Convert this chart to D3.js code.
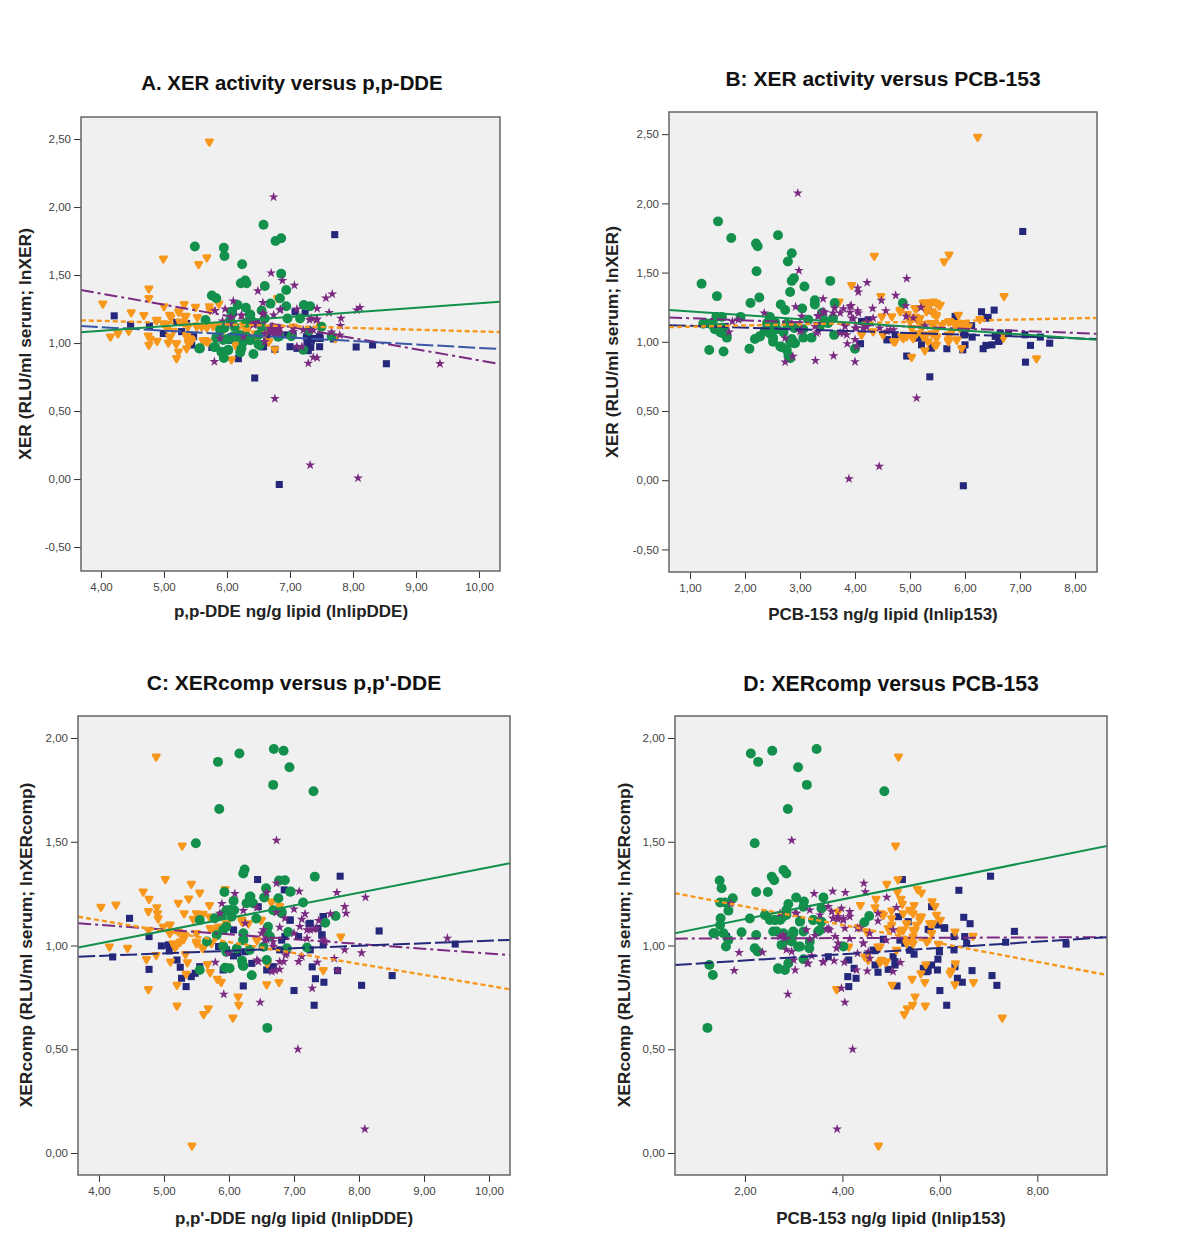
<!DOCTYPE html>
<html><head><meta charset="utf-8">
<script src="https://cdnjs.cloudflare.com/ajax/libs/d3/7.8.5/d3.min.js"></script>
<style>html,body{margin:0;padding:0;background:#fff}svg{display:block}</style>
</head><body><svg id="c" width="1200" height="1248"></svg>
<script>
// ---- values: [x, y] ----
const A_navy=[[4.21,1.2],[4.47,1.133],[4.77,1.125],[5,1.07],[5.2,1.152],[5.28,1.084],[5.47,1.047],[5.44,.986],[5.76,.968],[5.86,1.047],[6.55,.973],[6.18,.885],[6.44,.743],[6.76,.954],[7,.973],[6.95,1.06],[7.08,1.23],[7.71,1.797],[7.24,1.22],[7.27,1.01],[7.34,1.02],[7.47,1.047],[7.33,.968],[7.47,.973],[7.29,.944],[7.11,.961],[7.69,1.03],[8.05,.971],[8.31,.986],[8.53,.848],[6.1,1.223],[6.47,1.145],[6.63,1.047],[6.07,1.02],[6.83,-.04],[7.24,.96],[7.05,1.059],[7.26,1.046],[7.37,1.034],[7.48,1.034],[4.99,1.071],[5.36,1.144],[5.84,1.046],[6.58,.973]];
const A_orange=[[5.72,2.48],[4.99,1.62],[5.68,1.63],[5.55,1.58],[4.76,1.4],[4.76,1.33],[6.8,1.33],[4.03,1.29],[5,1.27],[5.32,1.285],[5.5,1.265],[5.87,1.29],[4.48,1.225],[4.68,1.205],[5.24,1.23],[5.11,1.19],[5.35,1.2],[5.53,1.19],[4.89,1.17],[5.03,1.14],[5.25,1.157],[5.72,1.27],[5.52,1.12],[5.68,1.115],[5.78,1.125],[5.94,1.096],[6.15,1.096],[6.31,1.096],[6.26,1.13],[6.45,1.07],[6.6,1.07],[7.05,1.12],[4.44,1.09],[4.27,1.07],[4.15,1.047],[4.75,1.054],[4.89,1.015],[5.1,1.047],[5.07,1.003],[5.19,.998],[5.36,1.047],[5.39,1.01],[5.44,1.02],[5.36,.96],[4.76,.986],[5.68,1.01],[5.62,1.018],[6.15,.998],[6.15,.973],[6.66,1.01],[5.23,.937],[5.2,.888],[6.07,.88],[6.76,.954],[7.72,1.035],[7.48,1.13],[6.47,1.035],[5.42,1.03],[5.31,1.15],[5.05,1.11],[5.15,1.09],[4.78,1.03],[5.6,1.12],[5.38,1.12],[5.09,1.206],[5.23,1.23],[5.33,1.193],[4.88,1.169],[5.36,1.059],[5.41,1.034],[5.39,.997],[5.09,1.046],[5.2,.997],[5.65,1.022],[5.7,1.01],[5.73,1.242],[5.7,1.132],[5.94,1.095],[6.15,1.095],[6.31,1.083],[6.15,.985],[5.68,1.12],[5.84,1.132],[4.99,1.144],[6.28,1.144],[6.44,1.046],[6.66,1.01]];
const A_green=[[6.58,1.87],[6.86,1.77],[6.77,1.75],[5.49,1.71],[5.95,1.7],[5.96,1.64],[6.24,1.58],[6.86,1.51],[6.29,1.46],[6.22,1.44],[6.31,1.44],[6.6,1.42],[6.94,1.39],[5.76,1.35],[5.83,1.33],[6.84,1.33],[6.69,1.29],[6.94,1.27],[6.17,1.28],[6.3,1.26],[7.22,1.28],[7.32,1.27],[6.07,1.23],[6.55,1.24],[6.37,1.21],[5.66,1.17],[6.96,1.18],[7.16,1.18],[7.5,1.12],[5.96,1.11],[6.55,1.12],[5.89,1.1],[6.31,1.15],[5.56,.96],[5.8,.97],[5.92,.93],[5.95,.89],[6.02,.95],[6.23,.96],[6.21,.93],[6.42,.92],[6.5,.99],[6.37,1.02],[6,1.03],[6.1,1.05],[6.83,1.05],[7.21,.95],[7.66,1.05],[6.12,1.12],[6.7,1.1],[6.4,1.16],[6.6,1.18],[6.2,1.06],[6.26,1.01],[5.83,1.04],[6.05,1.17],[6.78,1.08],[7.02,1.05],[7.3,1.09],[6.5,1.06],[6.05,1.034],[6.15,1.046],[5.94,1.022],[6.31,1.046],[6.52,.985],[6.81,1.046],[5.91,.936],[5.57,.961],[5.81,.973],[6.02,.948],[6.36,1.206]];
const A_purple=[[6.74,2.074],[6.7,1.515],[6.88,1.459],[7.07,1.424],[6.49,1.383],[7.67,1.36],[7.57,1.331],[6.1,1.309],[6.57,1.297],[5.97,1.25],[5.81,1.238],[6.85,1.248],[7.43,1.253],[8.11,1.26],[8.06,1.243],[7.62,1.223],[7.11,1.25],[6.74,1.206],[6.57,1.211],[6.23,1.201],[6.06,1.189],[5.93,1.162],[7.81,1.182],[7.8,1.128],[7.43,1.177],[7.31,1.17],[6.42,1.133],[6.74,1.101],[6.84,1.108],[7.05,1.084],[7.21,1.096],[7.37,1.096],[7.66,1.081],[7.79,1.059],[6.6,1.07],[6.26,1.047],[5.89,1.035],[6.6,1.01],[7.11,.973],[7.19,.973],[7.37,.895],[7.43,.892],[7.29,.851],[5.8,.863],[9.38,.848],[6.76,.591],[7.32,.103],[8.08,.007],[6.68,1.09],[6.78,1.07],[6.72,1.12],[6.82,1.08],[6.5,1.14],[6.68,1.108],[6.76,1.083],[6.82,1.108],[6.71,1.071],[6.84,1.071],[6.42,1.144],[6.23,1.206],[6.58,1.218],[6.84,1.242],[6.05,1.144],[7.05,1.108],[7.32,1.095],[7.42,1.169],[7.34,1.181]];

const B_navy=[[7.05,1.797],[6.53,1.229],[6.3,1.217],[6.42,1.176],[5.33,1.226],[5.82,1.183],[6.12,1.116],[6,1.051],[6.13,1.034],[4.24,1.159],[4.12,1.147],[4.1,.986],[4.59,1.015],[4.73,1.051],[5.15,1.027],[5.21,.978],[5.39,.959],[5.67,.95],[6,.978],[5.96,.942],[4.94,.897],[6.33,.95],[6.38,.974],[6.49,.978],[6.62,1.007],[6.64,1.063],[6.79,1.063],[7.09,1.051],[7.37,1.034],[7.19,.974],[7.54,.99],[7.1,.853],[5.36,.747],[1.64,1.111],[5.97,-.04],[4.58,1.015],[5.18,1.039],[5.39,.954],[4.18,1.147],[6.39,1.171],[6.67,1.039],[6.61,1.003],[5.97,1.051],[6.55,1.039]];
const B_orange=[[6.23,2.48],[4.35,1.62],[5.71,1.63],[5.62,1.58],[6.71,1.33],[3.94,1.41],[3.71,1.29],[4.47,1.33],[7.3,.88],[5.27,1.284],[5.36,1.28],[5.53,1.262],[5.09,1.243],[4.82,1.231],[4.67,1.183],[4.49,1.183],[5.48,1.195],[5.88,1.195],[5,1.159],[5.15,1.147],[5.45,1.135],[5.7,1.147],[5.82,1.123],[5.97,1.123],[6.27,1.164],[6.06,1.111],[5.03,1.099],[5.21,1.099],[5.48,1.087],[5.76,1.075],[4.12,1.051],[4.33,1.075],[4.51,1.051],[4.85,1.039],[5.03,1.039],[5.24,1.039],[5.48,1.039],[5.7,1.015],[5.85,1.015],[4.73,1.002],[5.33,1.002],[5.45,.978],[5.94,.954],[5.27,.938],[5.03,.89],[6.7,1.03],[5.4,1.22],[5.1,1.18],[5.32,1.25],[5.42,1.29],[5.2,1.13],[5.4,1.06],[4.95,1.2],[5.12,1.06],[5.58,1.12],[5.9,1.1],[5.24,1.28],[5.48,1.28],[5.55,1.267],[5.12,1.243],[4.82,1.219],[5.3,1.219],[5.42,1.207],[5.48,1.183],[5.18,1.171],[5,1.147],[5.24,1.123],[5.39,1.135],[5.73,1.147],[5.85,1.135],[6,1.135],[4.7,1.003],[4.88,1.027],[5.06,1.027],[5.48,1.027],[5.48,.979],[5.7,1.051],[5.7,1.003],[5.85,1.015],[5.3,1.051],[4.94,1.039]];
const B_green=[[1.51,1.87],[1.75,1.75],[2.2,1.71],[2.23,1.69],[2.6,1.77],[2.85,1.64],[2.78,1.58],[2.21,1.51],[2.89,1.46],[2.85,1.44],[1.21,1.42],[3.08,1.4],[3.55,1.44],[1.49,1.33],[2.82,1.36],[2.26,1.32],[2.1,1.28],[2.65,1.27],[3.27,1.3],[3.27,1.27],[2.73,1.23],[3.04,1.24],[3.63,1.28],[4.87,1.28],[3.4,1.21],[1.48,1.18],[1.58,1.18],[1.92,1.18],[2.45,1.18],[1.24,1.13],[1.36,1.13],[1.45,1.09],[1.55,1.07],[1.67,1.03],[2.18,1.02],[2.27,1.04],[2.45,1.06],[2.51,1],[2.67,.96],[2.76,.94],[2.91,.99],[3.06,1.03],[3.21,1.03],[3.62,1.05],[1.35,.94],[1.61,.93],[2.08,.95],[2.79,.9],[4,.95],[3.15,1.16],[2.76,1.13],[2.45,1.12],[2.58,1.09],[2.9,1.1],[3.06,1.09],[3.6,1.17],[2.55,1.14],[2.36,1.08],[1.6,1.1],[2.85,1.02],[2.7,1.07],[3.45,1.15],[2.4,1.135],[2.49,1.147],[2.27,1.039],[2.51,1.027],[2.64,.967],[2.88,.991],[2.82,1.003],[1.42,1.123],[1.55,1.099],[1.58,1.063],[1.27,1.135],[2.82,.882],[3.51,1.135],[3.36,1.111]];
const B_purple=[[2.96,2.074],[2.98,1.515],[4.94,1.457],[4.22,1.428],[4.05,1.388],[4.06,1.359],[4.74,1.335],[4.48,1.299],[3.42,1.31],[2.92,1.253],[2.35,1.207],[1.77,1.147],[1.88,1.159],[1.71,1.07],[2.73,1.027],[2.85,1.135],[3.03,1.183],[3.33,1.19],[3.45,1.212],[3.63,1.243],[3.79,1.238],[3.93,1.262],[3.91,1.212],[4.05,1.224],[4.32,1.241],[4.56,1.224],[4.92,1.26],[5.2,1.248],[4.93,1.183],[5.06,1.171],[3.97,1.166],[4.33,1.171],[3.82,1.111],[4.03,1.099],[4.21,1.106],[4.45,1.099],[4.64,1.087],[5.27,1.116],[3.03,1.087],[3.3,1.063],[3,1.135],[3.73,1.063],[3.85,1.051],[3.86,.986],[4,1.015],[4.03,.966],[2.87,.894],[2.73,.853],[3.28,.865],[3.61,.899],[4,.856],[5.12,.593],[3.89,.01],[4.44,.1],[3.91,1.255],[3.73,1.207],[3.6,1.207],[3.42,1.219],[3.33,1.183],[4.06,1.207],[3.94,1.171],[4.21,1.147],[4,1.099],[4.15,1.099],[4.7,1.087],[4.58,1.075],[3.79,1.063],[3,1.075],[3.33,1.075],[3.27,1.111]];

const C_navy=[[6.44,1.318],[7.71,1.334],[6.85,1.268],[4.47,1.131],[6.94,1.122],[7.23,1.104],[7.45,1.139],[8.31,1.07],[4.77,1.043],[4.96,.998],[5.07,1.003],[5.08,.974],[4.21,.945],[5.2,.93],[5.25,.895],[5.55,.898],[4.77,.885],[5.27,.842],[5.42,.85],[5.48,.866],[5.34,.802],[6.22,.805],[7,.783],[7.28,.897],[7.33,.84],[7.46,.823],[7.67,.879],[7.31,.712],[8.04,.808],[8.51,.855],[9.48,1.007],[6.58,.882],[6.07,.95],[5.96,.979],[6.35,.914],[6.68,.898],[7.07,1.043],[7.25,.979],[7.43,1.051],[7.45,1.003],[6.86,1.043],[6.45,1.187],[6.07,1.075],[6.78,.979],[5.84,.995],[6.14,.962],[6.25,.97],[6.68,.89],[6.81,1.026],[6.94,1.123],[7.25,1.107],[7.43,1.05],[7.45,1.139],[7.37,1.083],[5.91,.882]];
const C_orange=[[4.88,1.91],[5.28,1.481],[5.02,1.32],[4.68,1.26],[5.42,1.297],[5.55,1.255],[5.94,1.272],[4.77,1.224],[5.38,1.226],[4.03,1.186],[4.26,1.197],[5.22,1.205],[5.7,1.194],[4.89,1.184],[4.76,1.165],[4.9,1.155],[4.91,1.13],[5.31,1.155],[5.45,1.128],[5.5,1.155],[5.6,1.152],[5.7,1.139],[6.65,1.21],[6.78,1.19],[6.49,1.123],[6.2,1.115],[6.3,1.107],[5.86,1.083],[5.96,1.104],[5.76,1.075],[5.09,1.1],[4.99,1.091],[4.76,1.075],[5.09,1.059],[5.3,1.051],[5.3,1.03],[5.2,1.003],[5.17,.991],[5.5,1.019],[5.58,.995],[5.73,1.011],[4.16,.995],[4.44,.988],[7.72,1.043],[6.43,1.027],[4.73,.934],[4.88,.954],[5.1,.922],[5.33,.958],[5.36,.919],[5.67,.91],[5.71,.871],[5.34,.863],[5.2,.81],[5.82,.839],[5.88,.824],[6.58,.813],[6.77,.823],[7.45,.881],[6.59,.914],[4.76,.789],[6.14,.754],[6.15,.714],[5.2,.71],[5.68,.697],[5.61,.669],[6.06,.652],[5.43,.035],[5.22,1.067],[5.32,1.05],[5.14,1.01],[5.25,1.018],[5.5,1.059],[5.5,1.01],[5.6,.986],[5.71,1.083],[5.84,1.091],[5.96,1.107],[6.2,1.123],[6.5,1.123],[6.43,1.026],[6.66,1.211],[5.09,1.099]];
const C_green=[[5.83,1.885],[6.16,1.925],[6.69,1.947],[6.84,1.939],[6.93,1.859],[6.68,1.774],[7.3,1.743],[5.85,1.658],[5.49,1.493],[6.24,1.366],[6.22,1.347],[7.32,1.332],[6.77,1.313],[6.86,1.314],[6.57,1.276],[6.95,1.26],[5.93,1.258],[6.07,1.215],[6.33,1.236],[6.54,1.231],[6.76,1.228],[7.14,1.207],[6.27,1.204],[6.37,1.204],[7.64,1.142],[7.48,1.11],[6.68,1.17],[5.96,1.17],[6.04,1.139],[5.78,1.131],[5.55,1.123],[6.81,1.155],[6.58,1.067],[6.91,1.065],[6.22,1.059],[5.91,1.075],[5.66,1.019],[5.91,.998],[6.22,1.027],[6.32,.979],[6.63,1.043],[6.89,.987],[7.2,.99],[5.55,.882],[5.94,.893],[6.01,.89],[6.2,.927],[6.21,.906],[6.35,.857],[6.58,.93],[6.59,.603],[6.6,1.09],[6.08,1.17],[6.42,1.13],[6.02,1.171],[5.89,1.147],[6.32,1.235],[6.81,1.163],[5.96,1.091],[5.81,1.05],[5.96,.97],[6.12,.986],[6.22,1.026],[6.58,1.059],[6.53,.994],[6.94,1.259],[6.22,.901]];
const C_purple=[[6.73,1.507],[6.73,1.3],[6.09,1.25],[7.08,1.261],[7.66,1.255],[8.1,1.232],[7.78,1.187],[7.8,1.155],[5.89,1.202],[6.58,1.255],[7,1.175],[7.17,1.152],[7.12,1.126],[7.38,1.12],[6.22,1.168],[6.43,1.183],[6.73,1.159],[5.86,1.155],[7.56,1.152],[6.78,1.088],[6.5,1.059],[6.58,1.027],[7,1.059],[7.2,1.075],[7.3,1.078],[7.48,1.019],[9.36,1.035],[7.78,.979],[8.04,.964],[6.87,.954],[6.68,.995],[6.43,.93],[5.79,.919],[6.78,.922],[7.07,.922],[7.12,.947],[7.36,.919],[7.62,.937],[6.71,.879],[6.78,.885],[5.99,.962],[7.67,.879],[7.28,.794],[5.92,.765],[6.48,.726],[7.06,.5],[8.09,.115],[6.68,1.018],[6.55,1.026],[7.35,1.083],[7.25,1.075],[7.45,1.026],[7.2,1.034],[7.09,1.091],[6.86,1.131],[6.66,.874],[6.84,.922],[6.45,.922],[6.89,.962],[6.25,1.107],[6.53,1.075]];

const D_navy=[[5.23,1.318],[7.04,1.334],[6.39,1.266],[5.15,1.139],[5.83,1.187],[6.49,1.136],[6.62,1.105],[6.09,1.086],[5.96,1.099],[7.53,1.068],[5.35,1.115],[5.76,1.078],[6.29,1.043],[6.51,1.043],[6.55,1.011],[7.35,1.016],[8.59,1.007],[4.84,1.03],[5.28,1.011],[5.39,.979],[5.47,.958],[5.99,.97],[6.29,.979],[5.96,.934],[4.67,.975],[5.04,.946],[4.13,.93],[4.67,.906],[5.08,.906],[4.24,.89],[4.94,.885],[4.73,.871],[5.83,.906],[5.66,.89],[5.76,.879],[5.95,.882],[6.66,.879],[6.31,.898],[7.07,.855],[4.11,.85],[4.28,.842],[6.36,.842],[6.46,.823],[7.17,.808],[5.12,.805],[4.13,.802],[6,.783],[6.14,.712],[1.62,1.043],[3.71,.946],[5.18,1.026],[5.38,.978],[5.08,.922],[4.63,.978],[5.8,1.075],[6.1,1.083],[5.73,.874]];
const D_orange=[[5.15,1.91],[5.09,1.481],[5.14,1.319],[4.91,1.297],[5.54,1.272],[5.62,1.255],[4.37,1.195],[4.69,1.224],[5.13,1.258],[5.2,1.224],[5.23,1.2],[4.67,1.184],[5.84,1.212],[5.9,1.19],[5.47,1.194],[5.38,1.171],[5.25,1.155],[5.01,1.168],[4.8,1.155],[5.01,1.131],[5.62,1.139],[5.59,1.123],[5.93,1.147],[6.01,1.123],[5.83,1.107],[5.32,1.104],[5.21,1.075],[5.49,1.075],[5.01,1.099],[4.94,1.083],[5.83,1.059],[5.45,1.043],[6.68,1.046],[4.5,1.067],[4.33,1.088],[3.91,1.163],[4.73,.995],[5.32,1.011],[5.42,1.019],[5.73,1.019],[5.97,1.008],[4.13,.995],[5.11,.979],[4.46,.946],[4.53,.93],[4.77,.919],[4.89,.922],[5.71,.909],[6.32,.914],[5.61,.866],[6.24,.879],[6.21,.866],[5.43,.839],[5.69,.823],[6.69,.823],[6.31,.813],[5.02,.81],[3.88,.789],[5.49,.754],[5.44,.714],[5.7,.71],[5.33,.697],[5.27,.669],[7.28,.652],[4.74,.035],[5.25,1.075],[5.45,1.075],[5.52,1.099],[5.32,1.107],[5.45,1.155],[5.59,1.139],[5.32,1.026],[5.45,1.01],[5.76,1.026],[5.79,1.107],[5.86,1.107],[5.18,1.067],[6.31,1.067],[4.8,.93],[4.9,.922],[4.5,.946],[4.77,.994],[4.84,1.147]];
const D_green=[[2.12,1.925],[2.27,1.885],[2.56,1.939],[3.47,1.947],[3.09,1.859],[3.27,1.774],[4.86,1.743],[2.88,1.658],[2.2,1.493],[2.79,1.364],[2.85,1.347],[2.55,1.332],[2.6,1.314],[1.48,1.313],[1.52,1.276],[1.75,1.228],[2.23,1.258],[2.47,1.258],[3.05,1.231],[3.21,1.212],[3.61,1.231],[1.49,1.207],[1.59,1.207],[1.66,1.168],[2.89,1.2],[2.85,1.171],[3.2,1.187],[3.57,1.179],[4.55,1.142],[4.45,1.112],[1.5,1.131],[1.49,1.099],[2.1,1.13],[2.41,1.147],[2.51,1.123],[2.61,1.123],[2.75,1.131],[3.13,1.118],[3.4,1.123],[3.57,1.115],[1.35,1.059],[1.56,1.059],[1.93,1.064],[2.23,1.051],[2.58,1.067],[2.79,1.059],[2.99,1.059],[3.2,1.067],[3.5,1.067],[1.66,1.027],[1.61,.995],[2.2,.987],[2.26,.971],[2.75,1.003],[3.13,.995],[3.32,.987],[2.96,1.019],[4.02,.995],[3.2,.934],[2.68,.887],[2.82,.882],[2.89,.914],[1.27,.906],[1.34,.858],[1.23,.603],[2.62,1.123],[2.72,1.123],[2.85,1.147],[2.65,1.067],[2.89,1.026],[3.09,.994],[3.33,1.018],[2.68,.89],[3.54,1.075],[3.4,1.123],[3.13,1.115],[2.99,1.067],[1.38,1.059]];
const D_purple=[[2.96,1.507],[4.44,1.3],[4.47,1.258],[3.42,1.25],[3.8,1.261],[4.06,1.255],[4.91,1.232],[5.11,1.183],[1.71,1.202],[3.03,1.155],[3.33,1.171],[3.71,1.187],[3.78,1.163],[3.98,1.179],[4.15,1.163],[4.15,1.139],[3.81,1.131],[3.91,1.126],[4.02,1.131],[3.54,1.147],[4.73,1.155],[4.73,1.118],[4.05,1.083],[3.68,1.078],[3.74,1.075],[4.31,1.083],[5.04,1.075],[3.26,1.075],[4.56,1.059],[3.44,1.048],[3.85,1.043],[4.15,1.032],[3.33,1.03],[2.82,1.035],[2.72,1.043],[4.43,1.011],[3.91,1.011],[3.88,.987],[2.85,.979],[2.96,.971],[1.88,.966],[2.36,.967],[3,.93],[3.37,.95],[3.61,.919],[3.83,.926],[4.04,.919],[3.28,.914],[4.29,.882],[4.51,.877],[5.04,.874],[5.19,.918],[1.78,.879],[3.03,.882],[3.98,.794],[2.88,.765],[4.05,.726],[4.31,.962],[4.53,.97],[4.21,.5],[3.89,.115],[2.72,1.155],[3.06,1.155],[3.81,1.131],[3.91,1.139],[4.02,1.123],[3.71,1.083],[2.79,1.05],[3.3,.914],[3.6,.922],[4.9,1.026],[4.36,1.083],[4.43,1.01],[4.56,.938]];

// fit lines: [x0,y0,x1,y1]
const A_fit={navy:[3.68,1.125,10.33,.956],orange:[3.68,1.167,10.33,1.081],green:[3.68,1.08,10.33,1.304],purple:[3.68,1.39,10.33,.846]};
const B_fit={navy:[.62,1.12,8.4,1.02],orange:[.62,1.106,8.4,1.173],green:[.62,1.23,8.4,1.015],purple:[.62,1.176,8.4,1.058]};
const C_fit={navy:[3.68,.946,10.32,1.027],orange:[3.68,1.139,10.32,.789],green:[3.68,.99,10.32,1.396],purple:[3.68,1.107,10.32,.954]};
const D_fit={navy:[.56,.906,9.43,1.04],orange:[.56,1.252,9.43,.858],green:[.56,1.059,9.43,1.48],purple:[.56,1.033,9.43,1.04]};

const xTicksA=[4,5,6,7,8,9,10], xTicksB=[1,2,3,4,5,6,7,8], xTicksD=[2,4,6,8];
const yTicksTop=[-.5,0,.5,1,1.5,2,2.5], yTicksBottom=[0,.5,1,1.5,2];

const colors={navy:"#24277a",orange:"#f7981d",green:"#12904c",purple:"#7a2a80"};
const dashes={navy:"17 4",orange:"5 3",green:null,purple:"13 4 3 4"};

const panels=[
 {title:"A. XER activity versus p,p-DDE",xl:"p,p-DDE ng/g lipid (lnlipDDE)",yl:"XER (RLU/ml serum; lnXER)",ts:20.4,
  r:[81,117,500,571],xd:[3.683,10.333],yd:[-.676,2.662],xt:xTicksA,yt:yTicksTop,navyLine:"#3a56a8",
  data:{navy:A_navy,orange:A_orange,green:A_green,purple:A_purple},fit:A_fit,tp:[292,90],xp:[291,617],yp:[31,344]},
 {title:"B: XER activity versus PCB-153",xl:"PCB-153 ng/g lipid (lnlip153)",yl:"XER (RLU/ml serum; lnXER)",ts:21,
  r:[669,112,1097,572],xd:[.618,8.4],yd:[-.663,2.66],xt:xTicksB,yt:yTicksTop,
  data:{navy:B_navy,orange:B_orange,green:B_green,purple:B_purple},fit:B_fit,tp:[883,86],xp:[883,620],yp:[618,342]},
 {title:"C: XERcomp versus p,p'-DDE",xl:"p,p'-DDE ng/g lipid (lnlipDDE)",yl:"XERcomp (RLU/ml serum; lnXERcomp)",ts:21,
  r:[78,716,510,1175],xd:[3.677,10.323],yd:[-.106,2.106],xt:xTicksA,yt:yTicksBottom,
  data:{navy:C_navy,orange:C_orange,green:C_green,purple:C_purple},fit:C_fit,tp:[294,690],xp:[294,1224],yp:[32,945]},
 {title:"D: XERcomp versus PCB-153",xl:"PCB-153 ng/g lipid (lnlip153)",yl:"XERcomp (RLU/ml serum; lnXERcomp)",ts:21.2,
  r:[675,716,1107,1175],xd:[.564,9.43],yd:[-.106,2.106],xt:xTicksD,yt:yTicksBottom,
  data:{navy:D_navy,orange:D_orange,green:D_green,purple:D_purple},fit:D_fit,tp:[891,691],xp:[891,1224],yp:[630,945]}
];

const svg=d3.select("#c");
const fmt=v=>d3.format(".2f")(v).replace(".",",").replace("\u2212","-");
const sym={
 navy:d3.symbol().type(d3.symbolSquare).size(50)(),
 green:d3.symbol().type(d3.symbolCircle).size(78)(),
 purple:d3.symbol().type(d3.symbolStar).size(30)(),
 orange:d3.symbol().type(d3.symbolTriangle).size(18)()
};
const font="'Liberation Sans',Arial,sans-serif";

panels.forEach(p=>{
 const [l,t,r,b]=p.r;
 const x=d3.scaleLinear().domain(p.xd).range([l,r]);
 const y=d3.scaleLinear().domain(p.yd).range([b,t]);
 const g=svg.append("g");
 g.append("rect").attr("x",l).attr("y",t).attr("width",r-l).attr("height",b-t).attr("fill","#f0f0f0");

 const clipId="clip"+l+t;
 svg.append("clipPath").attr("id",clipId).append("rect").attr("x",l).attr("y",t).attr("width",r-l).attr("height",b-t);
 const plot=g.append("g").attr("clip-path",`url(#${clipId})`);

 ["navy","orange","green","purple"].forEach(k=>{
  plot.append("g").selectAll("path").data(p.data[k]).join("path")
   .attr("d",sym[k])
   .attr("transform",d=>`translate(${x(d[0])},${y(d[1])})`+(k==="orange"?" rotate(180)":""))
   .attr("fill",colors[k])
   .attr("stroke",k==="orange"?colors[k]:"none")
   .attr("stroke-width",k==="orange"?2.6:0)
   .attr("stroke-linejoin","round");
 });

 ["purple","navy","orange","green"].forEach(k=>{
  const f=p.fit[k];
  plot.append("line").attr("x1",x(f[0])).attr("y1",y(f[1])).attr("x2",x(f[2])).attr("y2",y(f[3]))
   .attr("stroke",k==="navy"&&p.navyLine?p.navyLine:colors[k]).attr("stroke-width",k==="orange"?2.4:2).attr("stroke-dasharray",dashes[k]);
 });

 const ax=g.append("g").attr("transform",`translate(0,${b})`)
   .call(d3.axisBottom(x).tickValues(p.xt).tickFormat(fmt).tickSize(7).tickPadding(5));
 const ay=g.append("g").attr("transform",`translate(${l},0)`)
   .call(d3.axisLeft(y).tickValues(p.yt).tickFormat(fmt).tickSize(7).tickPadding(3));
 [ax,ay].forEach(a=>{
  a.select(".domain").remove();
  a.selectAll("line").attr("stroke","#333").attr("stroke-width",1);
  a.selectAll("text").attr("fill","#444").attr("font-family",font).attr("font-size",11.5);
 });
 g.append("rect").attr("x",l).attr("y",t).attr("width",r-l).attr("height",b-t)
  .attr("fill","none").attr("stroke","#666").attr("stroke-width",1.5);

 g.append("text").attr("x",p.tp[0]).attr("y",p.tp[1]).attr("text-anchor","middle")
  .attr("font-family",font).attr("font-weight","bold").attr("font-size",p.ts).attr("fill","#111").text(p.title);
 g.append("text").attr("x",p.xp[0]).attr("y",p.xp[1]).attr("text-anchor","middle")
  .attr("font-family",font).attr("font-weight","bold").attr("font-size",17).attr("fill","#222").text(p.xl);
 g.append("text").attr("transform",`translate(${p.yp[0]},${p.yp[1]}) rotate(-90)`).attr("text-anchor","middle")
  .attr("font-family",font).attr("font-weight","bold").attr("font-size",17.4).attr("fill","#222").text(p.yl);
});
</script></body></html>
